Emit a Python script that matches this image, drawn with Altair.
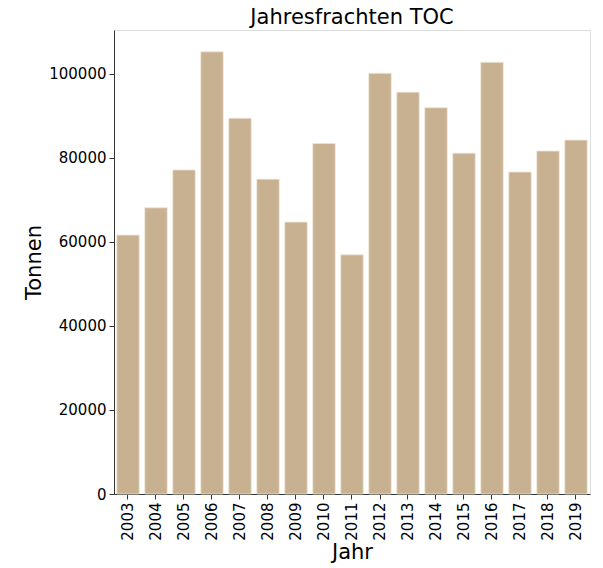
import altair as alt
import pandas as pd

years = [str(y) for y in range(2003, 2020)]
tonnen = [61600, 68100, 77100, 105200, 89400, 74900, 64700, 83400, 56900,
          100100, 95600, 91900, 81100, 102700, 76600, 81600, 84200]

df = pd.DataFrame({"Jahr": years, "Tonnen": tonnen})

FONT = "DejaVu Sans"

chart = (
    alt.Chart(df)
    .mark_bar(color="#c8b190", stroke="#ece3d6", strokeWidth=0.8)
    .encode(
        x=alt.X(
            "Jahr:N",
            sort=years,
            scale=alt.Scale(paddingInner=0.2, paddingOuter=0.1),
            axis=alt.Axis(
                title="Jahr",
                labelAngle=-90,
                labelFontSize=15,
                labelFont=FONT,
                labelColor="black",
                labelPadding=3,
                tickSize=5,
                tickColor="#333",
                domainColor="#333",
                titleFont=FONT,
                titleFontSize=21,
                titleFontWeight="normal",
                titleColor="black",
                titleBaseline="alphabetic",
                titleAlign="center",
                titleX=238,
                titleY=64,
            ),
        ),
        y=alt.Y(
            "Tonnen:Q",
            scale=alt.Scale(domain=[0, 110400], nice=False, zero=True),
            axis=alt.Axis(
                title="Tonnen",
                values=[0, 20000, 40000, 60000, 80000, 100000],
                format="d",
                grid=False,
                labelFontSize=15,
                labelFont=FONT,
                labelColor="black",
                labelPadding=3,
                tickSize=5,
                tickColor="#333",
                domainColor="#333",
                titleFont=FONT,
                titleFontSize=21,
                titleFontWeight="normal",
                titleColor="black",
                titleAngle=-90,
                titleBaseline="alphabetic",
                titleAlign="center",
                titleX=-74,
                titleY=232,
            ),
        ),
    )
    .properties(
        width=476,
        height=464,
        title=alt.TitleParams(
            "Jahresfrachten TOC",
            font=FONT,
            fontSize=21,
            fontWeight="normal",
            color="black",
            anchor="middle",
            offset=2,
        ),
        autosize=alt.AutoSizeParams(type="none"),
        padding={"left": 106, "top": 22, "right": 5, "bottom": 80},
    )
    .configure_view(stroke="#333", strokeWidth=1)
    .configure(background="white")
)

chart.save("out.html", embed_options={"renderer": "svg", "actions": False})
